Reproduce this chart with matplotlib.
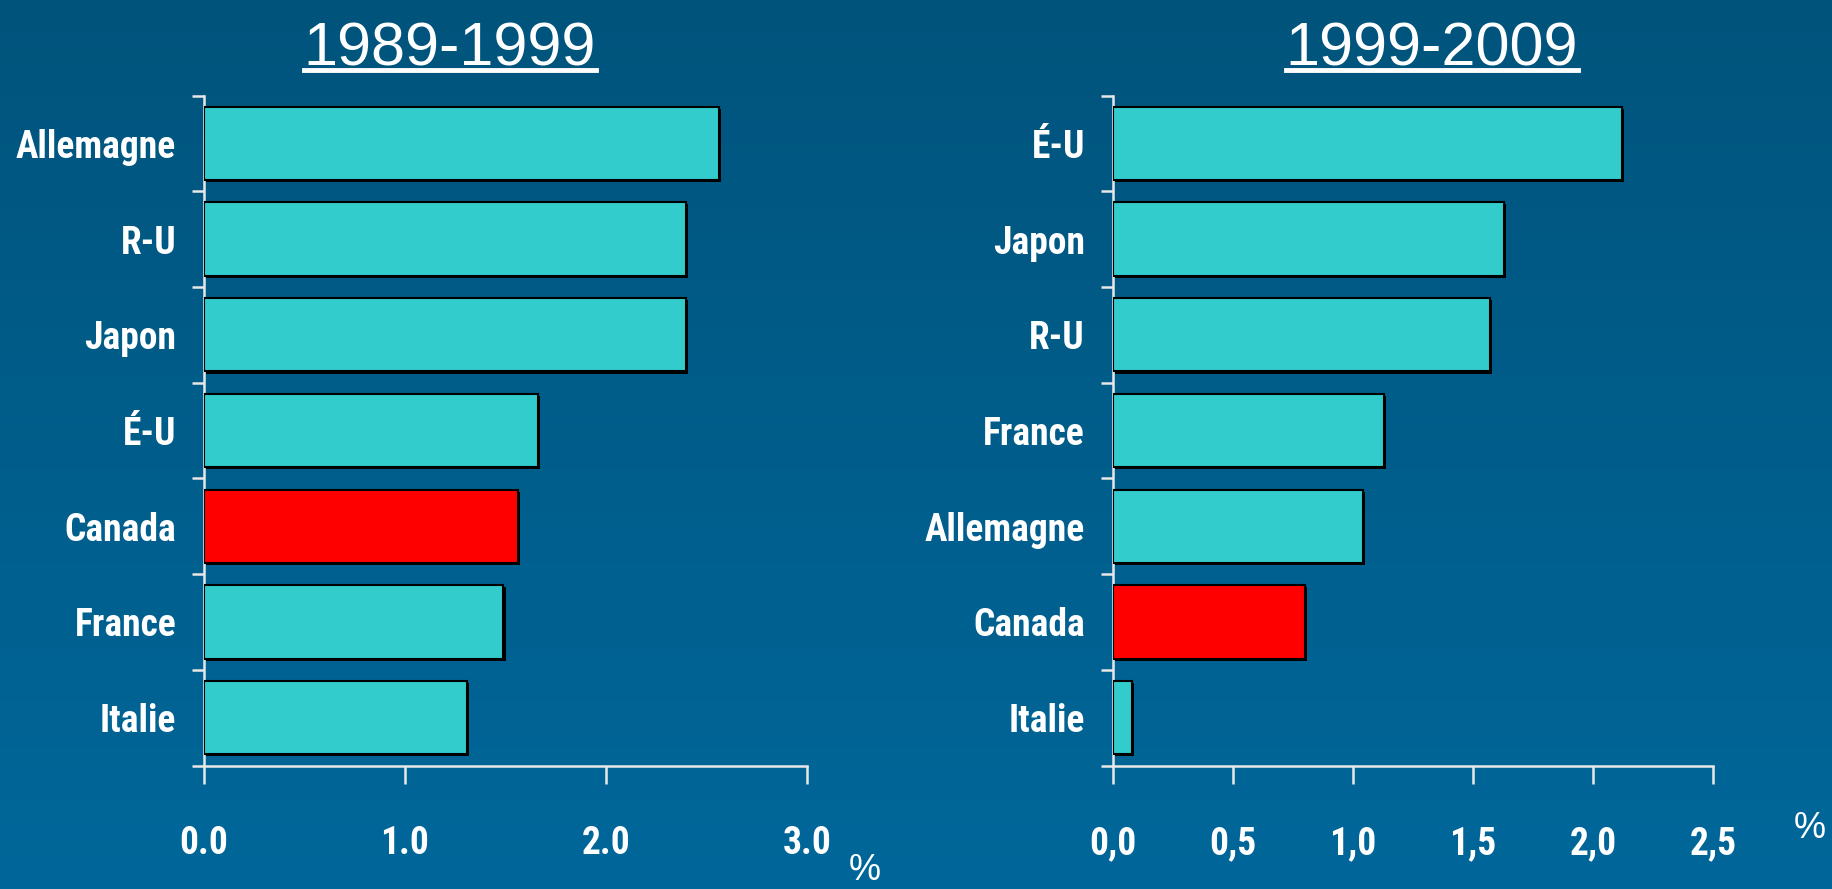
import numpy as np
import matplotlib
matplotlib.use("Agg")
import matplotlib.pyplot as plt
import matplotlib.patheffects as pe
from matplotlib.lines import Line2D
from matplotlib.ticker import FixedLocator, NullFormatter

# Données
left_title = "1989-1999"
left_countries = ["Allemagne", "R-U", "Japon", "É-U", "Canada", "France", "Italie"]
left_values = [2.56, 2.40, 2.40, 1.66, 1.56, 1.49, 1.31]
left_ticks = [0.0, 1.0, 2.0, 3.0]
left_ticklabels = ["0.0", "1.0", "2.0", "3.0"]

right_title = "1999-2009"
right_countries = ["É-U", "Japon", "R-U", "France", "Allemagne", "Canada", "Italie"]
right_values = [2.12, 1.63, 1.57, 1.13, 1.04, 0.80, 0.08]
right_ticks = [0.0, 0.5, 1.0, 1.5, 2.0, 2.5]
right_ticklabels = ["0,0", "0,5", "1,0", "1,5", "2,0", "2,5"]

highlight = "Canada"

bar_color = "#33cccc"
red = "#ff0000"
label_font = ["Roboto Condensed", "DejaVu Sans"]
title_font = ["Liberation Sans", "DejaVu Sans"]

W, H = 1833, 889
fig = plt.figure(figsize=(W / 100, H / 100), dpi=100)

# fond en dégradé
bg = fig.add_axes([0, 0, 1, 1], zorder=-10)
grad = np.linspace(0, 1, 256).reshape(-1, 1)
top = np.array([0x00, 0x54, 0x7c]) / 255
bot = np.array([0x00, 0x67, 0x9a]) / 255
img = top + (bot - top) * grad[:, :, None]
bg.imshow(img, aspect="auto", extent=[0, 1, 0, 1])
bg.axis("off")


def panel(left_px, width_px, countries, values, ticks, ticklabels, xmax):
    ax = fig.add_axes([left_px / W, 1 - 765.5 / H, width_px / W, 670 / H])
    ax.set_facecolor("none")
    y = np.arange(len(countries))[::-1]
    colors = [red if c == highlight else bar_color for c in countries]
    bars = ax.barh(y, values, height=0.766, color=colors, edgecolor="black",
                   linewidth=1.5, zorder=3)
    for b in bars:
        b.set_path_effects([pe.SimplePatchShadow(offset=(1.5, -1.5),
                                                 shadow_rgbFace="black", alpha=1.0),
                            pe.Normal()])
    ax.set_xlim(0, xmax)
    ax.set_ylim(-0.5, len(countries) - 0.5)
    for s in ["top", "right"]:
        ax.spines[s].set_visible(False)
    for s in ["left", "bottom"]:
        ax.spines[s].set_color("#e8e8e8")
        ax.spines[s].set_linewidth(1.8)
    ax.set_xticks(ticks)
    ax.set_xticklabels(ticklabels, family=label_font, fontweight="bold",
                       fontsize=27, color="white")
    ax.tick_params(axis="x", direction="out", length=13, width=1.8,
                   color="#e8e8e8", pad=30)
    # graduations verticales entre les catégories
    ax.yaxis.set_major_locator(FixedLocator(np.arange(-0.5, len(countries), 1.0)))
    ax.yaxis.set_major_formatter(NullFormatter())
    ax.yaxis.set_minor_locator(FixedLocator(y))
    ax.set_yticklabels(countries, minor=True, family=label_font,
                       fontweight="bold", fontsize=27, color="white")
    ax.tick_params(axis="y", which="major", direction="out", length=9,
                   width=1.8, color="#e8e8e8")
    ax.tick_params(axis="y", which="minor", length=0, pad=20)
    return ax


ax1 = panel(204, 603, left_countries, left_values, left_ticks, left_ticklabels, 3.0)
ax2 = panel(1112.7, 600.5, right_countries, right_values, right_ticks, right_ticklabels, 2.5)

# titres soulignés
renderer = fig.canvas.get_renderer()
for txt, cx in [(left_title, 450), (right_title, 1432)]:
    t = fig.text(cx / W, 1 - 66 / H, txt, ha="center", va="baseline",
                 family=title_font, fontsize=44, color="white")
    bb = t.get_window_extent(renderer)
    yl = (H - 70) / H
    fig.add_artist(Line2D([bb.x0 / W, bb.x1 / W], [yl, yl], color="white",
                          linewidth=3.5, transform=fig.transFigure))

# unités
fig.text(865 / W, 1 - 871 / H, "%", ha="center", va="center",
         family=title_font, fontsize=26, color="white")
fig.text(1810 / W, 1 - 828 / H, "%", ha="center", va="center",
         family=title_font, fontsize=26, color="white")

fig.savefig("out.png", dpi=100)
